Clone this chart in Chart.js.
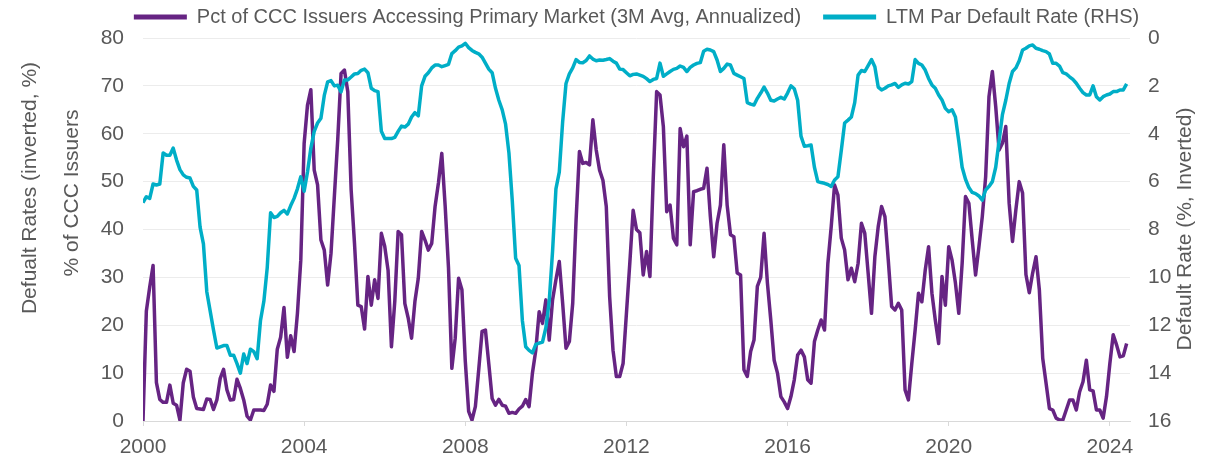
<!DOCTYPE html>
<html lang="en">
<head>
<meta charset="UTF-8">
<title>CCC issuers vs default rate</title>
<script src="https://cdn.jsdelivr.net/npm/chart.js@4.4.1/dist/chart.umd.min.js"></script>
<style>
  html, body { margin: 0; padding: 0; background: #fff; }
  #wrap { width: 1217px; height: 458px; }
</style>
</head>
<body>
<div id="wrap"><canvas id="chart"></canvas></div>
<script>
// monthly data, Jan 2000 .. Jun 2024
const startYear = 2000;
const xTicks = [2000, 2004, 2008, 2012, 2016, 2020, 2024];
const seriesNames = [
  'Pct of CCC Issuers Accessing Primary Market (3M Avg, Annualized)',
  'LTM Par Default Rate (RHS)'
];
const outerTitle = 'Defualt Rates (inverted, %)';
const leftTitle = '% of CCC Issuers';
const rightTitle = 'Default Rate (%, Inverted)';

// % of CCC issuers accessing primary market (left axis)
const cccPct = [
  0, 23, 28, 32.5, 8, 4.5, 3.9, 3.9, 7.5, 3.7, 3.3, 0.2,
  8, 10.8, 10.4, 5, 2.6, 2.5, 2.4, 4.6, 4.5, 2.4, 4.4, 8.9,
  10.8, 6.5, 4.4, 4.5, 8.7, 6.8, 4.4, 1, 0.2, 2.3, 2.3, 2.3,
  2.2, 3.5, 7.5, 6.2, 15, 17.5, 23.7, 13.3, 17.8, 14.5, 22.5, 33.6,
  58, 66, 69.2, 52.4, 49.3, 37.8, 35.7, 28.4, 35, 46.9, 58.7, 72.6,
  73.3, 68.8, 48.3, 37.1, 24.2, 23.9, 19.2, 30.2, 24.2, 29.5, 25.6, 39.2,
  36.5, 31.5, 15.5, 25, 39.6, 38.9, 24.5, 21.5, 17.3, 25, 29.8, 39.6,
  37.8, 35.7, 37.1, 44.8, 49.7, 55.9, 45, 32, 11, 17.3, 29.8, 27.4,
  12.5, 2, 0.2, 3, 10.7, 18.7, 19, 12, 4.7, 3.3, 4.5, 3.3,
  3.1, 1.6, 1.8, 1.6, 2.5, 3.1, 4.5, 3.0, 10, 14.8, 22.8, 20.4,
  25.3, 16.9, 25.3, 29.5, 33.3, 24.6, 15.2, 16.6, 24.6, 42, 56.3, 53.8,
  54, 53.5, 62.9, 56.6, 52.4, 50.3, 44.8, 26, 14.8, 9.3, 9.3, 12,
  22.5, 32.9, 44, 40, 39.3, 30.5, 35.4, 30.2, 51, 68.8, 68.1, 61.5,
  43.7, 45.1, 38.2, 36.8, 61.1, 57.3, 59.5, 36.8, 47.9, 48.1, 48.4, 48.6,
  52.8, 42.7, 34.3, 41.3, 45.1, 57.7, 45.1, 38.9, 38.5, 30.9, 30.5, 10.7,
  9.3, 14.5, 16.9, 28.1, 30, 39.2, 28.8, 21.1, 12.7, 10, 5.1, 4,
  2.6, 5.1, 8.6, 13.8, 14.8, 13.4, 8.6, 7.9, 16.6, 19, 21.1, 19,
  32.9, 40.6, 49.3, 47.2, 38.2, 35.7, 29.5, 31.9, 29.1, 32.9, 41.3, 39.2,
  30.9, 22.5, 34.3, 40.6, 44.8, 42.7, 33.6, 23.9, 23.2, 24.6, 23.2, 6.5,
  4.4, 12, 19, 26.7, 24.9, 31.5, 36.4, 26.7, 21.1, 16.2, 30.2, 24.2,
  36.4, 33.6, 28.8, 22.5, 32.9, 46.9, 45.5, 37.8, 30.5, 36.4, 42.7, 51,
  67.8, 73, 65.7, 56.6, 58, 61.5, 45.5, 37.5, 44.1, 50, 47.6, 30.6,
  26.8, 30.9, 34.3, 27.4, 13.1, 7.9, 2.6, 2.3, 0.6, 0.2, 0.2, 2.3,
  4.4, 4.4, 2.3, 6.1, 8.2, 12.7, 6.5, 6.3, 2.3, 2.3, 0.6, 5.1,
  12, 18, 15.9, 13.4, 13.6, 16.2
];

// LTM par default rate, % (right axis, inverted)
const defaultRate = [
  6.88, 6.63, 6.7, 6.1, 6.14, 6.1, 4.8, 4.9, 4.9, 4.6, 5.1, 5.5,
  5.72, 5.82, 5.85, 6.2, 6.35, 7.9, 8.6, 10.6, 11.4, 12.2, 12.95, 12.9,
  12.85, 12.85, 13.25, 13.25, 13.6, 14.0, 13.2, 13.6, 13.0, 13.1, 13.4, 11.8,
  11, 9.6, 7.3, 7.5, 7.45, 7.3, 7.2, 7.35, 7.0, 6.7, 6.3, 5.8,
  6.4, 5.6, 4.6, 3.9, 3.55, 3.35, 2.4, 1.83, 1.78, 2.0, 1.97, 2.25,
  1.75, 1.75, 1.63, 1.5, 1.48, 1.35, 1.3, 1.45, 2.1, 2.2, 2.24, 3.9,
  4.2, 4.2, 4.2, 4.15, 3.9, 3.68, 3.72, 3.6, 3.3, 3.12, 3.25, 2.0,
  1.6, 1.45, 1.25, 1.13, 1.13, 1.2, 1.15, 1.1, 0.65, 0.53, 0.38, 0.33,
  0.22, 0.4, 0.52, 0.6, 0.66, 0.8, 1.05, 1.3, 1.45, 2.1, 2.6, 3.0,
  3.6, 4.8, 6.8, 9.2, 9.5, 11.8, 12.9, 13.05, 13.15, 12.8, 12.75, 12.7,
  12.1, 11.0, 8.9, 6.3, 5.6, 3.5, 1.9, 1.5, 1.25, 0.9, 1.02, 1.03,
  0.94, 0.75, 0.88, 0.95, 0.92, 0.93, 0.9, 0.86, 0.97, 1.05, 1.3, 1.32,
  1.45, 1.58, 1.52, 1.5, 1.55, 1.6, 1.7, 1.82, 1.73, 1.69, 1.05, 1.6,
  1.5, 1.4, 1.31, 1.27, 1.17, 1.23, 1.4, 1.23, 1.13, 1.06, 1.03, 0.55,
  0.47, 0.5, 0.57, 0.92, 1.4, 1.27, 1.09, 1.13, 1.48, 1.55, 1.62, 1.69,
  2.7, 2.76, 2.8, 2.52, 2.3, 2.05, 2.3, 2.6, 2.63, 2.55, 2.48, 2.55,
  2.3, 2.0, 2.12, 2.6, 4.1, 4.52, 4.5, 4.47, 5.4, 6.0, 6.04, 6.07,
  6.12, 6.2, 5.93, 5.8, 4.7, 3.55, 3.43, 3.3, 2.7, 1.55, 1.36, 1.4,
  1.15, 0.9, 1.2, 2.05, 2.17, 2.1, 2.0, 1.96, 1.9, 2.06, 1.96, 1.89,
  1.92, 1.82, 0.9, 1.06, 1.13, 1.34, 1.69, 1.96, 2.1, 2.38, 2.59, 2.94,
  3.08, 3.0, 3.3, 4.3, 5.4, 5.9, 6.25, 6.45, 6.5, 6.6, 6.77, 6.35,
  6.2, 6.0, 5.4, 4.3, 3.2, 2.6, 1.9, 1.4, 1.25, 0.95, 0.5, 0.43,
  0.33, 0.29, 0.43, 0.47, 0.53, 0.57, 0.67, 1.06, 1.06, 1.17, 1.45, 1.5,
  1.62, 1.73, 1.89, 2.1, 2.28, 2.38, 2.38, 2.0, 2.45, 2.59, 2.45, 2.38,
  2.34, 2.24, 2.24, 2.17, 2.17, 1.92
];

const months = cccPct.map((_, i) => startYear + i / 12);

const grey = '#595959';
const purple = '#662483';
const teal = '#00AEC7';
const font = { family: '"Liberation Sans", Arial, sans-serif', size: 21 };
const legendFont = { family: '"Liberation Sans", Arial, sans-serif', size: 20 };

// legend sits above the plot, centred on the plot area
const legendPlace = {
  id: 'legendPlace',
  afterInit(chart) {
    const lg = chart.legend;
    const fit = lg.fit;
    lg.fit = function () { fit.call(this); this.height = 38; };
  },
  afterLayout(chart) {
    const lg = chart.legend, ca = chart.chartArea;
    const mid = (ca.left + ca.right) / 2;
    lg.left = mid - 580; lg.right = mid + 580; lg.width = 1160;
    lg.top = -15; lg.bottom = 40; lg.height = 55;
  }
};

// rotated axis titles (all read bottom to top)
const sideTitles = {
  id: 'sideTitles',
  afterDraw(chart) {
    const { ctx, chartArea: ca } = chart;
    ctx.save();
    ctx.font = '21px "Liberation Sans", Arial, sans-serif';
    ctx.fillStyle = grey;
    ctx.textAlign = 'center';
    ctx.textBaseline = 'middle';
    [[outerTitle, ca.left - 113, 188], [leftTitle, ca.left - 71, 193], [rightTitle, ca.right + 55, 229]]
      .forEach(([t, x, y]) => {
        ctx.save();
        ctx.translate(x, y);
        ctx.rotate(-Math.PI / 2);
        ctx.fillText(t, 0, 0);
        ctx.restore();
      });
    ctx.restore();
  }
};

new Chart(document.getElementById('chart'), {
  type: 'line',
  data: {
    datasets: [
      {
        label: seriesNames[0],
        data: months.map((x, i) => ({ x, y: cccPct[i] })),
        borderColor: purple, backgroundColor: purple,
        borderWidth: 3.5, pointRadius: 0, tension: 0,
        borderJoinStyle: 'round', yAxisID: 'y', order: 1
      },
      {
        label: seriesNames[1],
        data: months.map((x, i) => ({ x, y: defaultRate[i] })),
        borderColor: teal, backgroundColor: teal,
        borderWidth: 3.5, pointRadius: 0, tension: 0,
        borderJoinStyle: 'round', yAxisID: 'y1', order: 0
      }
    ]
  },
  options: {
    responsive: true,
    maintainAspectRatio: false,
    animation: false,
    layout: { padding: { left: 50, right: 0, top: 0, bottom: 0 } },
    plugins: {
      tooltip: { enabled: false },
      legend: {
        position: 'top',
        labels: {
          font: legendFont, color: grey, boxWidth: 53, boxHeight: 5, padding: 22,
          sort: (a, b) => a.datasetIndex - b.datasetIndex,
          generateLabels: (chart) => Chart.defaults.plugins.legend.labels.generateLabels(chart)
            .map(l => Object.assign(l, { lineWidth: 0 }))
        }
      }
    },
    scales: {
      x: {
        type: 'linear', min: startYear, max: 2024.5,
        afterBuildTicks: (s) => { s.ticks = xTicks.map(v => ({ value: v })); },
        ticks: { font, color: grey, padding: 9, maxRotation: 0, autoSkip: false, callback: v => String(v) },
        grid: { drawOnChartArea: false, tickLength: 5, color: '#d9d9d9' },
        border: { color: '#d9d9d9' },
        afterFit: (s) => { s.height = 37; }
      },
      y: {
        position: 'left', min: 0, max: 80,
        ticks: { stepSize: 10, font, color: grey, padding: 19 },
        grid: { color: '#ececec', drawTicks: false },
        border: { display: false },
        afterFit: (s) => { s.width = 93; }
      },
      y1: {
        position: 'right', min: 0, max: 16, reverse: true,
        ticks: { stepSize: 2, font, color: grey, padding: 18 },
        grid: { drawOnChartArea: false, drawTicks: false },
        border: { display: false },
        afterFit: (s) => { s.width = 87; }
      }
    }
  },
  plugins: [legendPlace, sideTitles]
});
</script>
</body>
</html>
